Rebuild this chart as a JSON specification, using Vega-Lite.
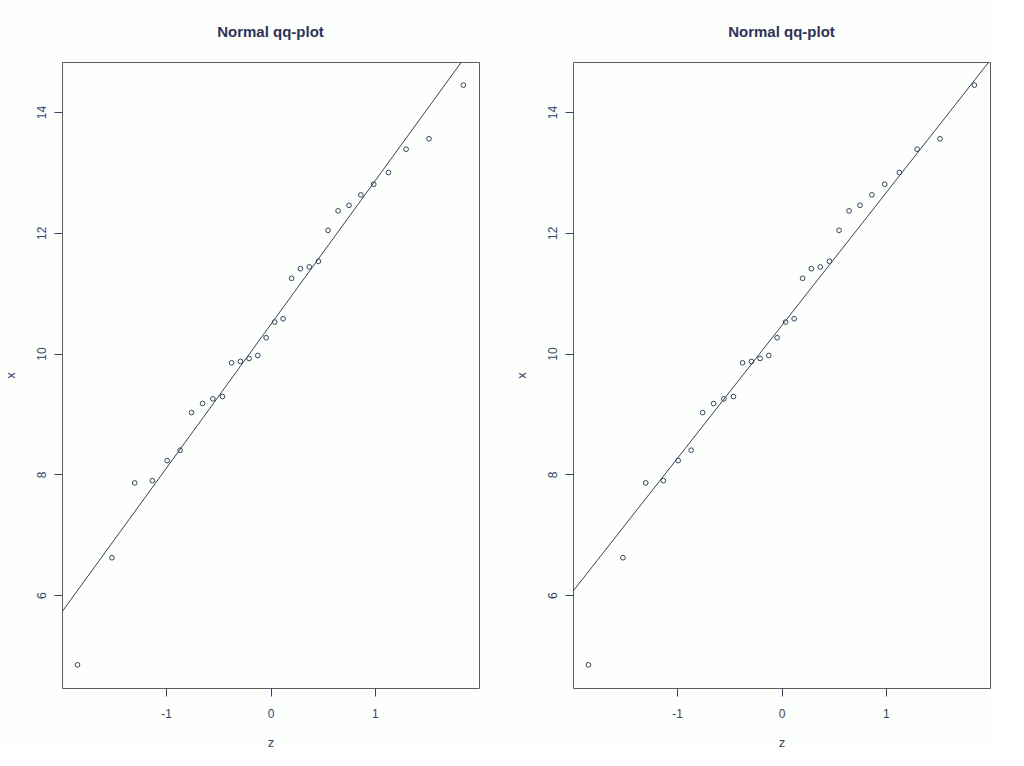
{
  "$schema": "https://vega.github.io/schema/vega-lite/v6.json",
  "background": "#fdfffd",
  "padding": {"left": 3, "top": 24, "right": 0, "bottom": 0},
  "spacing": 34,
  "datasets": {
    "pts": [
      {"z": -1.848, "x": 4.843}, {"z": -1.518, "x": 6.618}, {"z": -1.300, "x": 7.857}, {"z": -1.131, "x": 7.895},
      {"z": -0.989, "x": 8.227}, {"z": -0.865, "x": 8.399}, {"z": -0.755, "x": 9.023}, {"z": -0.650, "x": 9.172},
      {"z": -0.552, "x": 9.250}, {"z": -0.460, "x": 9.288}, {"z": -0.373, "x": 9.847}, {"z": -0.288, "x": 9.869},
      {"z": -0.205, "x": 9.919}, {"z": -0.122, "x": 9.968}, {"z": -0.042, "x": 10.262}, {"z": 0.040, "x": 10.522},
      {"z": 0.121, "x": 10.577}, {"z": 0.202, "x": 11.246}, {"z": 0.286, "x": 11.406}, {"z": 0.371, "x": 11.435},
      {"z": 0.459, "x": 11.528}, {"z": 0.551, "x": 12.042}, {"z": 0.647, "x": 12.364}, {"z": 0.752, "x": 12.456},
      {"z": 0.865, "x": 12.629}, {"z": 0.988, "x": 12.805}, {"z": 1.129, "x": 12.999}, {"z": 1.298, "x": 13.385},
      {"z": 1.517, "x": 13.558}, {"z": 1.846, "x": 14.447}
    ],
    "line_left": [
      {"z": -1.996, "x": 5.722}, {"z": 1.828, "x": 14.83}
    ],
    "line_right": [
      {"z": -1.996, "x": 6.063}, {"z": 1.985, "x": 14.83}
    ]
  },
  "config": {
    "font": "Liberation Sans",
    "view": {"stroke": "#5c5c5c", "strokeWidth": 1},
    "axis": {
      "domain": false, "grid": false,
      "tickColor": "#3a4068", "tickSize": 8, "tickWidth": 1,
      "labelColor": "#3c4466", "labelFontSize": 12, "labelFont": "Liberation Sans",
      "labelExpr": "'' + datum.value",
      "titleColor": "#3c4466", "titleFontSize": 13, "titleFontWeight": "normal", "titleFont": "Liberation Sans"
    },
    "axisX": {"labelPadding": 12, "titlePadding": 17},
    "axisY": {"labelAngle": 270, "labelAlign": "center", "labelBaseline": "alphabetic", "labelPadding": 9, "titlePadding": 18},
    "title": {"font": "Liberation Sans", "fontSize": 15, "fontWeight": "bold", "color": "#2e3256", "anchor": "middle", "baseline": "alphabetic", "offset": 22}
  },
  "hconcat": [
    {
      "width": 417, "height": 626,
      "title": "Normal qq-plot",
      "layer": [
        {
          "data": {"name": "pts"},
          "mark": {"type": "point", "shape": "circle", "size": 22, "strokeWidth": 1, "color": "#3a3f5c", "filled": false, "opacity": 1},
          "encoding": {
            "x": {"field": "z", "type": "quantitative", "scale": {"domain": [-1.996, 1.996], "nice": false, "zero": false}, "axis": {"values": [-1, 0, 1], "title": "z"}},
            "y": {"field": "x", "type": "quantitative", "scale": {"domain": [4.46, 14.83], "nice": false, "zero": false}, "axis": {"values": [6, 8, 10, 12, 14], "title": "x"}}
          }
        },
        {
          "data": {"name": "line_left"},
          "mark": {"type": "line", "color": "#3a3f5c", "strokeWidth": 1, "clip": true},
          "encoding": {
            "x": {"field": "z", "type": "quantitative"},
            "y": {"field": "x", "type": "quantitative"}
          }
        }
      ]
    },
    {
      "width": 417, "height": 626,
      "title": "Normal qq-plot",
      "layer": [
        {
          "data": {"name": "pts"},
          "mark": {"type": "point", "shape": "circle", "size": 22, "strokeWidth": 1, "color": "#3a3f5c", "filled": false, "opacity": 1},
          "encoding": {
            "x": {"field": "z", "type": "quantitative", "scale": {"domain": [-1.996, 1.996], "nice": false, "zero": false}, "axis": {"values": [-1, 0, 1], "title": "z"}},
            "y": {"field": "x", "type": "quantitative", "scale": {"domain": [4.46, 14.83], "nice": false, "zero": false}, "axis": {"values": [6, 8, 10, 12, 14], "title": "x"}}
          }
        },
        {
          "data": {"name": "line_right"},
          "mark": {"type": "line", "color": "#3a3f5c", "strokeWidth": 1, "clip": true},
          "encoding": {
            "x": {"field": "z", "type": "quantitative"},
            "y": {"field": "x", "type": "quantitative"}
          }
        }
      ]
    }
  ]
}
